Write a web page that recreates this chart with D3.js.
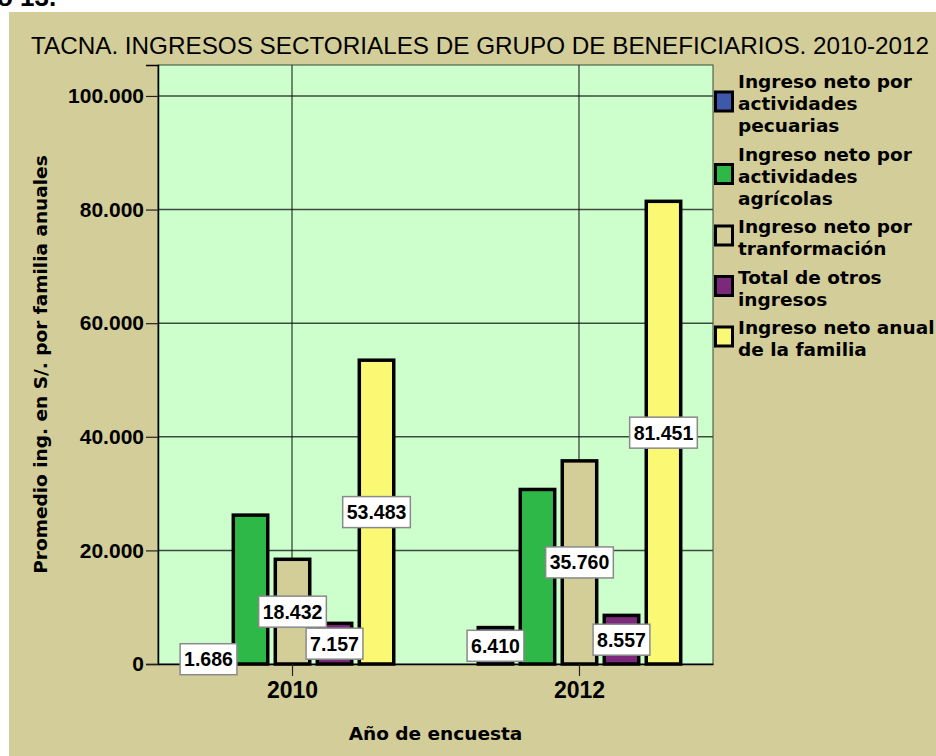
<!DOCTYPE html>
<html>
<head>
<meta charset="utf-8">
<script src="https://cdn.jsdelivr.net/npm/d3@7"></script>
<style>
  body { margin: 0; background: #fff; }
  svg { display: block; }
</style>
</head>
<body>
<script>
// Data
var years = ["2010", "2012"];
var series = [
  "Ingreso neto por actividades pecuarias",
  "Ingreso neto por actividades agrícolas",
  "Ingreso neto por tranformación",
  "Total de otros ingresos",
  "Ingreso neto anual de la familia"
];
var pecuarias = [1686, 6410];
var agricolas = [26208, 30724];
var transformacion = [18432, 35760];
var otros = [7157, 8557];
var anual = [53483, 81451];
var yTicks = [0, 20000, 40000, 60000, 80000, 100000];

// legend lines as wrapped in the picture
var legendLines = [
  ["Ingreso neto por", "actividades", "pecuarias"],
  ["Ingreso neto por", "actividades", "agrícolas"],
  ["Ingreso neto por", "tranformación"],
  ["Total de otros", "ingresos"],
  ["Ingreso neto anual", "de la familia"]
];
var colors = ["#3e58ac", "#2eb848", "#d3ce97", "#7c287d", "#fbf873"];
var labelled = [true, false, true, true, true];

var values = [pecuarias, agricolas, transformacion, otros, anual];
var bars = [];
years.forEach(function(yr, i) {
  series.forEach(function(s, j) {
    bars.push({ year: yr, series: s, idx: j, value: values[j][i] });
  });
});

var svgWidth = 936, svgHeight = 756;
var plot = { left: 158, right: 713, top: 65, bottom: 664 };

var es = d3.formatLocale({ decimal: ",", thousands: ".", grouping: [3], currency: ["", ""] });
var fmt = es.format(",d");

var svg = d3.select("body").append("svg")
  .attr("width", svgWidth)
  .attr("height", svgHeight);

// caption above the chart, cropped in the original
svg.append("text")
  .attr("x", -3).attr("y", 6)
  .attr("font-family", "Liberation Sans, Arial, sans-serif")
  .attr("font-weight", "bold")
  .attr("font-size", 26)
  .text("o 13.");

// outer panel
svg.append("rect")
  .attr("x", 9).attr("y", 12)
  .attr("width", svgWidth - 9).attr("height", svgHeight - 12)
  .attr("fill", "#d3cd99");

svg.append("text")
  .attr("x", 31).attr("y", 54)
  .attr("font-family", "Liberation Sans, Arial, sans-serif")
  .attr("font-size", 24)
  .attr("textLength", 898)
  .attr("lengthAdjust", "spacingAndGlyphs")
  .text("TACNA. INGRESOS SECTORIALES DE GRUPO DE BENEFICIARIOS. 2010-2012");

// scales
var y = d3.scaleLinear().domain([0, 105450]).range([plot.bottom, plot.top]);
var x0 = d3.scalePoint().domain(years).range([plot.left, plot.right]).padding(0.467);
var x1 = d3.scaleBand().domain(series).range([-105, 105]).paddingInner(0.18).paddingOuter(0.09);

// plot background
svg.append("rect")
  .attr("x", plot.left).attr("y", plot.top)
  .attr("width", plot.right - plot.left).attr("height", plot.bottom - plot.top)
  .attr("fill", "#ccffcc")
  .attr("stroke", "#3a4a3a").attr("stroke-width", 1);

// gridlines
svg.append("g").selectAll("line")
  .data(yTicks.slice(1))
  .enter().append("line")
  .attr("x1", plot.left).attr("x2", plot.right)
  .attr("y1", d => y(d)).attr("y2", d => y(d))
  .attr("stroke", "#3d4a40").attr("stroke-width", 1.5);

svg.append("g").selectAll("line")
  .data(years)
  .enter().append("line")
  .attr("x1", d => x0(d)).attr("x2", d => x0(d))
  .attr("y1", plot.top).attr("y2", plot.bottom)
  .attr("stroke", "#111").attr("stroke-width", 1);

// bars
svg.append("g").selectAll("rect")
  .data(bars)
  .enter().append("rect")
  .attr("x", d => x0(d.year) + 0.5 + x1(d.series))
  .attr("y", d => y(d.value))
  .attr("width", x1.bandwidth())
  .attr("height", d => y(0) - y(d.value))
  .attr("fill", d => colors[d.idx])
  .attr("stroke", "#000")
  .attr("stroke-width", 3.5);

// axes
var leftAxis = d3.axisLeft(y).tickValues(yTicks).tickFormat(fmt).tickSize(12).tickPadding(2);
var gy = svg.append("g")
  .attr("transform", `translate(${plot.left}, 0)`)
  .call(leftAxis);
gy.select(".domain").attr("stroke", "#000").attr("stroke-width", 1.5);
gy.selectAll(".tick line").attr("stroke", "#222").attr("stroke-width", 1.2);
gy.selectAll(".tick text")
  .attr("font-family", "Liberation Sans, Arial, sans-serif")
  .attr("font-weight", "bold")
  .attr("font-size", 21)
  .attr("fill", "#000");

var bottomAxis = d3.axisBottom(x0).tickSize(12).tickPadding(6).tickSizeOuter(0);
var gx = svg.append("g")
  .attr("transform", `translate(0, ${plot.bottom})`)
  .call(bottomAxis);
gx.select(".domain").attr("stroke", "#000").attr("stroke-width", 1.5);
gx.selectAll(".tick line").attr("stroke", "#222").attr("stroke-width", 1.2);
gx.selectAll(".tick text")
  .attr("font-family", "Liberation Sans, Arial, sans-serif")
  .attr("font-weight", "bold")
  .attr("font-size", 23)
  .attr("fill", "#000");

// value labels
var labels = svg.append("g").selectAll("g")
  .data(bars.filter(d => labelled[d.idx]))
  .enter().append("g")
  .attr("transform", d => `translate(${x0(d.year) + 0.5 + x1(d.series) + x1.bandwidth() / 2}, ${(y(d.value) + y(0)) / 2})`);

labels.append("rect")
  .attr("fill", "#fff")
  .attr("stroke", "#8a8a8a")
  .attr("stroke-width", 1.5);

labels.append("text")
  .attr("text-anchor", "middle")
  .attr("y", 7)
  .attr("font-family", "Liberation Sans, Arial, sans-serif")
  .attr("font-weight", "bold")
  .attr("font-size", 19.5)
  .attr("fill", "#000")
  .text(d => fmt(d.value));

labels.each(function() {
  var g = d3.select(this);
  var w = g.select("text").node().getComputedTextLength() + 8;
  g.select("rect")
    .attr("x", -w / 2).attr("y", -15.5)
    .attr("width", w).attr("height", 31);
});

// axis titles
svg.append("text")
  .attr("transform", `translate(47, ${(plot.top + plot.bottom) / 2}) rotate(-90)`)
  .attr("text-anchor", "middle")
  .attr("font-family", "DejaVu Sans, Verdana, sans-serif")
  .attr("font-weight", "bold")
  .attr("font-size", 18.5)
  .text("Promedio ing. en S/. por familia anuales");

svg.append("text")
  .attr("x", (plot.left + plot.right) / 2)
  .attr("y", 740)
  .attr("text-anchor", "middle")
  .attr("font-family", "DejaVu Sans, Verdana, sans-serif")
  .attr("font-weight", "bold")
  .attr("font-size", 18.5)
  .text("Año de encuesta");

// legend
var legend = svg.append("g").attr("font-family", "DejaVu Sans, Verdana, sans-serif")
  .attr("font-weight", "bold").attr("font-size", 18.5);
var lineH = 22, base = 88;
legendLines.forEach(function(lines, i) {
  var last = base + (lines.length - 1) * lineH;
  var cy = (base - 13 + last) / 2 - 2;
  legend.append("rect")
    .attr("x", 715.5).attr("y", cy - 9.5)
    .attr("width", 17).attr("height", 19)
    .attr("fill", colors[i])
    .attr("stroke", "#000").attr("stroke-width", 3);
  lines.forEach(function(t, k) {
    legend.append("text")
      .attr("x", 738).attr("y", base + k * lineH)
      .text(t);
  });
  base = last + 28.5;
});
</script>
</body>
</html>
